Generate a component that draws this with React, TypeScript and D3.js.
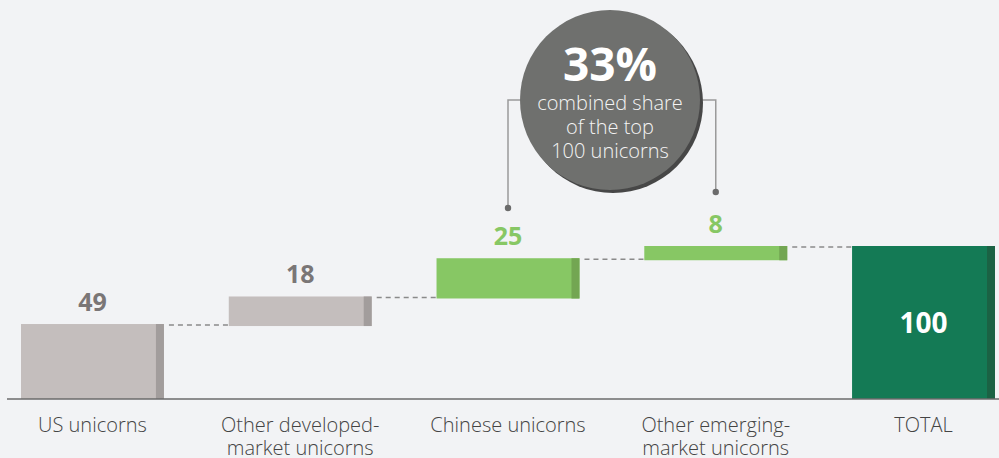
import * as d3 from "d3";

const categories: string[][] = [
  ["US unicorns"],
  ["Other developed-", "market unicorns"],
  ["Chinese unicorns"],
  ["Other emerging-", "market unicorns"],
  ["TOTAL"],
];
const values: number[] = [49, 18, 25, 8];
const total = 100;
const groups: string[] = ["developed", "developed", "emerging", "emerging", "total"];
const calloutHeadline = "33%";
const calloutLines: string[] = ["combined share", "of the top", "100 unicorns"];

const W = 999;
const H = 458;
const baseY = 399;

const colors: Record<string, { fill: string; edge: string; label: string }> = {
  developed: { fill: "#c4bebd", edge: "#a29d9c", label: "#7a7676" },
  emerging: { fill: "#87c764", edge: "#73a652", label: "#87c764" },
  total: { fill: "#147a55", edge: "#1b6244", label: "#ffffff" },
};

export default function App() {
  const x = d3.scaleBand<number>()
    .domain(d3.range(categories.length))
    .range([21, 995])
    .paddingInner(0.312)
    .paddingOuter(0);
  const y = d3.scaleLinear().domain([0, total]).range([baseY, 246]);
  const bw = x.bandwidth();

  // running sums for the waterfall
  const starts = [0, ...d3.cumsum(values)].slice(0, values.length);
  const bars = values.map((v, i) => ({ i, from: starts[i], to: starts[i] + v, v }));
  bars.push({ i: values.length, from: 0, to: total, v: total });

  const font = "'Open Sans', 'Noto Sans', sans-serif";
  const cx = 610, cy = 100, r = 90;

  return (
    <div style={{ position: "absolute", left: 0, top: 0 }}>
      <svg width={W} height={H} style={{ display: "block", background: "#f2f3f5" }}>
        {/* connectors between bars */}
        {bars.slice(0, -1).map((b) => (
          <line key={"c" + b.i}
            x1={(x(b.i) as number) + bw + 5} x2={x(b.i + 1) as number}
            y1={y(b.to) + 1} y2={y(b.to) + 1}
            stroke="#8a8a8a" strokeWidth={1.5} strokeDasharray="5,4" />
        ))}
        {bars.map((b) => {
          const g = colors[groups[b.i]];
          const x0 = x(b.i) as number;
          const top = y(b.to);
          const bottom = b.from === 0 ? baseY : y(b.from) + 2;
          return (
            <g key={b.i}>
              <rect x={x0} y={top} width={bw} height={bottom - top} fill={g.fill} />
              <rect x={x0 + bw - 8} y={top} width={8} height={bottom - top} fill={g.edge} />
              {b.i < values.length ? (
                <text x={x0 + bw / 2} y={top - 13} textAnchor="middle" fontFamily={font}
                  fontWeight={700} fontSize={25} fill={g.label}>{b.v}</text>
              ) : (
                <text x={x0 + bw / 2} y={(top + bottom) / 2 + 10} textAnchor="middle" fontFamily={font}
                  fontWeight={700} fontSize={28} fill={g.label}>{b.v}</text>
              )}
            </g>
          );
        })}
        <line x1={7} x2={W} y1={baseY} y2={baseY} stroke="#6b6b6b" strokeWidth={1.5} />
        {categories.map((lines, i) => (
          <text key={"l" + i} x={(x(i) as number) + bw / 2} textAnchor="middle" fontFamily={font}
            fontWeight={300} fontSize={20} fill="#444">
            {lines.map((t, j) => (
              <tspan key={j} x={(x(i) as number) + bw / 2} y={432 + j * 23}>{t}</tspan>
            ))}
          </text>
        ))}
        {/* callout */}
        {[2, 3].map((i, k) => {
          const lx = (x(i) as number) + bw / 2;
          const side = k === 0 ? cx - r : cx + r;
          const dotY = k === 0 ? 208 : 192;
          return (
            <g key={"p" + i}>
              <polyline points={`${side},100 ${lx},100 ${lx},${dotY}`} fill="none" stroke="#9a9a9a" strokeWidth={1.5} />
              <circle cx={lx} cy={dotY} r={3.2} fill="#6b6b6b" />
            </g>
          );
        })}
        <circle cx={cx + 3} cy={cy + 3} r={r} fill="#474747" />
        <circle cx={cx} cy={cy} r={r} fill="#6f706e" />
        <text x={cx} y={81} textAnchor="middle" fontFamily={font} fontWeight={700} fontSize={46} fill="#fff">
          {calloutHeadline}
        </text>
        {calloutLines.map((t, j) => (
          <text key={"cl" + j} x={cx} y={110 + j * 24} textAnchor="middle" fontFamily={font}
            fontWeight={300} fontSize={20} fill="#f4f4f4">{t}</text>
        ))}
      </svg>
    </div>
  );
}
